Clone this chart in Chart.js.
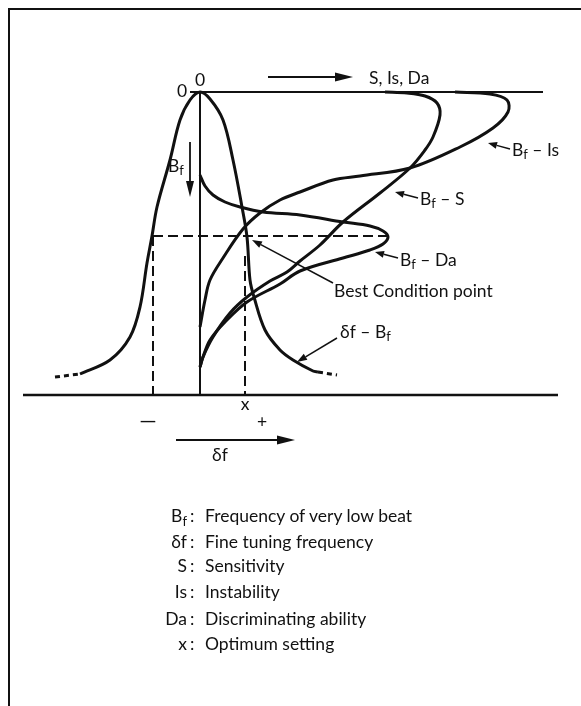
<!DOCTYPE html>
<html>
<head>
<meta charset="utf-8">
<script src="https://cdn.jsdelivr.net/npm/chart.js@4.4.1/dist/chart.umd.min.js"></script>
<style>
  html, body { margin: 0; padding: 0; background: #fff; }
  #wrap { position: relative; width: 581px; height: 706px; overflow: hidden; font-family: Lato, 'Open Sans', sans-serif; color: #111; }
  #frame { position: absolute; left: 8px; top: 8px; width: 600px; height: 720px; border-left: 2px solid #111; border-top: 2px solid #111; }
  #c { position: absolute; left: 0; top: 0; }
  .row { position: absolute; left: 0; height: 22px; line-height: 22px; font-size: 17.5px; width: 581px; }
  .row .k { position: absolute; left: 0; width: 187px; text-align: right; }
  .row .colon { position: absolute; left: 190px; }
  .row .v { position: absolute; left: 205px; }
  sub { font-size: 13px; vertical-align: -4px; line-height: 0; }
</style>
</head>
<body>
<div id="wrap">
  <div id="frame"></div>
  <canvas id="c" width="581" height="706"></canvas>
  <div id="key"></div>
</div>
<script>
(function () {
    'use strict';

    // ── DATA (δf to the right, Bf downward) ────────────────────────────────
    // δf – Bf  (bell curve)
    const bellX = [-12, -9, -7, -6, -5.3, -4.8, -4.3, -3, -2, -1, 0, 1, 2.3, 3.3, 4.2, 4.7, 5.0, 5.4, 6.5, 8, 9.3, 11.3, 11.8];
    const bellY = [28.2, 26.8, 24.5, 21.5, 17.1, 14.4, 11.5, 6.8, 2.8, 0.8, 0, 0.7, 2.8, 6.8, 11.5, 14.5, 18.8, 20.5, 23.8, 25.8, 26.8, 27.9, 28.0];
    const bellTailLX = [-14.5, -12];
    const bellTailLY = [28.5, 28.2];
    const bellTailRX = [11.8, 13.7];
    const bellTailRY = [28.0, 28.3];

    // Bf – Is
    const isX = [0, 0.5, 1, 2.3, 4.3, 6, 8, 10, 13.3, 16, 21, 26, 29.3, 30.8, 30.7, 29, 25.5];
    const isY = [23.5, 20.8, 18.8, 16.6, 13.7, 12.1, 10.8, 10, 8.8, 8.4, 7.6, 5.5, 3.6, 2.0, 0.8, 0.2, 0];

    // Bf – S
    const sX = [0, 0.3, 1.3, 3, 4.7, 7, 8.7, 10, 12, 14.3, 18, 21, 22.5, 23.3, 24, 23.7, 22.5, 20.7, 18.5];
    const sY = [27.5, 26.5, 24.5, 22.1, 20.5, 18.9, 18, 16.9, 15.3, 13, 10.1, 7.6, 5.8, 4.5, 2.3, 1.1, 0.4, 0.1, 0];

    // Bf – Da
    const daX = [0, 0.5, 1.3, 2.5, 4, 6.3, 10, 14.3, 17, 18.3, 18.8, 18.3, 17, 14.3, 10, 8, 4.7, 2.5, 1, 0.3, 0];
    const daY = [8.3, 9.4, 10.3, 11, 11.5, 12, 12.3, 13, 13.4, 13.9, 14.5, 15.2, 15.8, 16.6, 17.9, 19.2, 21, 23, 24.8, 26.5, 27.5];

    // axes and construction lines
    const topLineX = [-1, 34.3];
    const baseY = 30.3;
    const baseLineX = [-17.7, 35.8];
    const bestY = 14.4;            // best condition level
    const bestLeftX = -4.7;        // "−" side
    const bestRightX = 4.5;        // x : optimum setting
    const bestTipX = 18.8;

    // key
    const keyLabels = ['B<sub>f</sub>', 'δf', 'S', 'Is', 'Da', 'x'];
    const keyTexts = ['Frequency of very low beat', 'Fine tuning frequency', 'Sensitivity', 'Instability', 'Discriminating ability', 'Optimum setting'];
    const keyRowY = [516, 542, 566, 592, 619, 644];

    const INK = '#111';
    const FONT = 'Lato, "Open Sans", sans-serif';

    const zip = (xs, ys) => xs.map((x, i) => ({ x, y: ys[i] }));

    function curve(xs, ys, extra) {
        return Object.assign({
            data: zip(xs, ys),
            showLine: true,
            borderColor: INK,
            borderWidth: 3,
            pointRadius: 0,
            tension: 0.35,
            fill: false
        }, extra || {});
    }

    const datasets = [
        curve(bellX, bellY),
        curve(bellTailLX, bellTailLY, { borderDash: [5, 4], tension: 0 }),
        curve(bellTailRX, bellTailRY, { borderDash: [5, 4], tension: 0 }),
        curve(isX, isY),
        curve(sX, sY),
        curve(daX, daY),
        curve(topLineX, [0, 0], { borderWidth: 2, tension: 0 }),
        curve([0, 0], [0, baseY], { borderWidth: 2, tension: 0 }),
        curve(baseLineX, [baseY, baseY], { borderWidth: 2.5, tension: 0 }),
        curve([bestLeftX, bestTipX], [bestY, bestY], { borderWidth: 2, borderDash: [10, 5], tension: 0 }),
        curve([bestLeftX, bestLeftX], [bestY, baseY], { borderWidth: 2, borderDash: [10, 5], tension: 0 }),
        curve([bestRightX, bestRightX], [bestY + 2, baseY], { borderWidth: 2, borderDash: [10, 5], tension: 0 })
    ];

    // ── ARROWS & LABELS (placed in data units) ─────────────────────────────
    const arrows = [
        { from: [6.8, -1.5], to: [15.3, -1.5], w: 1.8, head: 18, half: 4.5 },
        { from: [-1, 5], to: [-1, 10.5], w: 1.8, head: 16, half: 4 },
        { from: [-2.4, 34.8], to: [9.5, 34.8], w: 1.8, head: 18, half: 4.5 },
        { from: [31, 5.7], to: [28.8, 5.1], w: 1.5, head: 9, half: 3.5 },
        { from: [21.8, 10.6], to: [19.5, 10], w: 1.5, head: 9, half: 3.5 },
        { from: [19.8, 16.6], to: [17.5, 16], w: 1.5, head: 9, half: 3.5 },
        { from: [13.3, 19.1], to: [5.2, 14.8], w: 1.5, head: 10, half: 3.5 },
        { from: [13.7, 24.6], to: [9.7, 27], w: 1.5, head: 10, half: 3.5 }
    ];

    const B_f = [{ t: 'B' }, { t: 'f', sub: true }];
    const labels = [
        { at: [-1.8, -0.1], align: 'center', runs: [{ t: '0' }] },
        { at: [0, -1.2], align: 'center', runs: [{ t: '0' }] },
        { at: [16.9, -1.4], align: 'left', runs: [{ t: 'S, Is, Da' }] },
        { at: [-3.2, 7.4], align: 'left', runs: B_f },
        { at: [31.2, 5.8], align: 'left', runs: B_f.concat([{ t: ' – Is' }]) },
        { at: [22, 10.7], align: 'left', runs: B_f.concat([{ t: ' – S' }]) },
        { at: [20, 16.8], align: 'left', runs: B_f.concat([{ t: ' – Da' }]) },
        { at: [13.4, 19.9], align: 'left', runs: [{ t: 'Best Condition point' }] },
        { at: [14, 24.0], align: 'left', runs: [{ t: 'δf – ' }].concat(B_f) },
        { at: [4.5, 31.2], align: 'center', runs: [{ t: 'x' }] },
        { at: [-5.2, 32.9], align: 'center', runs: [{ t: '—', size: 22 }] },
        { at: [6.2, 33.0], align: 'center', runs: [{ t: '+' }] },
        { at: [2, 36.3], align: 'center', runs: [{ t: 'δf' }] }
    ];

    function drawRuns(c, x, y, runs, align) {
        const fontOf = r => (r.sub ? 13 : (r.size || 17.5)) + 'px ' + FONT;
        let total = 0;
        runs.forEach(r => { c.font = fontOf(r); total += c.measureText(r.t).width; });
        let px = align === 'center' ? x - total / 2 : x;
        c.textBaseline = 'middle';
        c.textAlign = 'left';
        runs.forEach(r => {
            c.font = fontOf(r);
            c.fillText(r.t, px, r.sub ? y + 5 : y);
            px += c.measureText(r.t).width;
        });
    }

    const overlay = {
        id: 'overlay',
        afterDatasetsDraw(chart) {
            const c = chart.ctx;
            const xs = chart.scales.x, ys = chart.scales.y;
            const P = p => [xs.getPixelForValue(p[0]), ys.getPixelForValue(p[1])];
            c.save();
            c.strokeStyle = INK;
            c.fillStyle = INK;
            arrows.forEach(a => {
                const [x1, y1] = P(a.from), [x2, y2] = P(a.to);
                const ang = Math.atan2(y2 - y1, x2 - x1);
                const bx = x2 - a.head * Math.cos(ang), by = y2 - a.head * Math.sin(ang);
                c.lineWidth = a.w;
                c.beginPath();
                c.moveTo(x1, y1);
                c.lineTo(bx, by);
                c.stroke();
                c.beginPath();
                c.moveTo(x2, y2);
                c.lineTo(bx + a.half * Math.sin(ang), by - a.half * Math.cos(ang));
                c.lineTo(bx - a.half * Math.sin(ang), by + a.half * Math.cos(ang));
                c.closePath();
                c.fill();
            });
            labels.forEach(l => {
                const [x, y] = P(l.at);
                drawRuns(c, x, y, l.runs, l.align);
            });
            c.restore();
        }
    };

    new Chart(document.getElementById('c'), {
        type: 'scatter',
        data: { datasets },
        options: {
            responsive: false,
            animation: false,
            layout: { padding: 0 },
            plugins: { legend: { display: false }, tooltip: { enabled: false } },
            scales: {
                x: { type: 'linear', min: -20, max: 38.1, display: false },
                y: { type: 'linear', min: -9.2, max: 61.4, reverse: true, display: false }
            }
        },
        plugins: [overlay]
    });

    // ── KEY ────────────────────────────────────────────────────────────────
    const key = document.getElementById('key');
    keyLabels.forEach((lab, i) => {
        const row = document.createElement('div');
        row.className = 'row';
        row.style.top = (keyRowY[i] - 11) + 'px';
        row.innerHTML = `<span class="k">${lab}</span><span class="colon">:</span><span class="v">${keyTexts[i]}</span>`;
        key.appendChild(row);
    });
})();
</script>
</body>
</html>
